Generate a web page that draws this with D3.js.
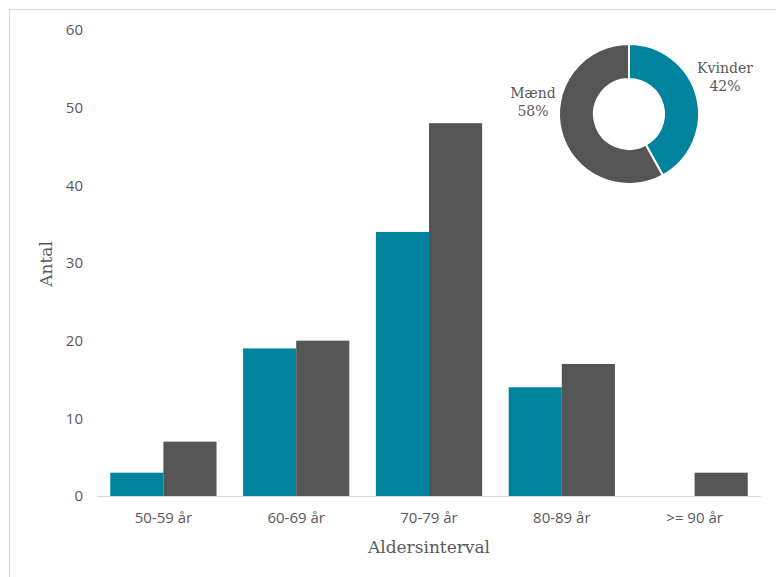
<!DOCTYPE html>
<html>
<head>
<meta charset="utf-8">
<script src="https://cdn.jsdelivr.net/npm/d3@7"></script>
<style>
  html, body { margin: 0; padding: 0; background: #fff; }
  svg { display: block; }
</style>
</head>
<body>
<svg id="chart" width="776" height="577"></svg>
<script>
// Age groups and counts per sex
const categories = ["50-59 år", "60-69 år", "70-79 år", "80-89 år", ">= 90 år"];
const seriesNames = ["Kvinder", "Mænd"];
const kvinder = [3, 19, 34, 14, 0];
const maend = [7, 20, 48, 17, 3];
const yTicks = [0, 10, 20, 30, 40, 50, 60];

// Share of each sex, as labelled on the donut
const shareNames = ["Kvinder", "Mænd"];
const shares = [42, 58];

const colors = { "Kvinder": "#00849e", "Mænd": "#555555" };
const textColor = "#595959";
const sansFont = "'Open Sans', sans-serif";
const serifFont = "'DejaVu Serif', serif";

const svg = d3.select("#chart");

// Outer frame (top and left edges visible)
svg.append("rect")
  .attr("x", 9.5).attr("y", 9.5)
  .attr("width", 900).attr("height", 700)
  .attr("fill", "none").attr("stroke", "#d9d9d9").attr("stroke-width", 1);

const plot = { left: 97, right: 761, top: 30, bottom: 496 };

const x0 = d3.scaleBand()
  .domain(categories)
  .range([plot.left, plot.right])
  .paddingInner(0.2).paddingOuter(0.1);

const x1 = d3.scaleBand()
  .domain(seriesNames)
  .range([0, x0.bandwidth()]);

const y = d3.scaleLinear()
  .domain([0, 60])
  .range([plot.bottom, plot.top]);

const rows = categories.map((c, i) => ({ cat: c, values: [
  { name: "Kvinder", v: kvinder[i] },
  { name: "Mænd", v: maend[i] }
]}));

// Bars
const groups = svg.append("g").selectAll("g")
  .data(rows).join("g")
  .attr("transform", d => `translate(${x0(d.cat)},0)`);

groups.selectAll("rect")
  .data(d => d.values.filter(e => e.v > 0))
  .join("rect")
  .attr("x", d => x1(d.name))
  .attr("y", d => y(d.v))
  .attr("width", x1.bandwidth())
  .attr("height", d => y(0) - y(d.v))
  .attr("fill", d => colors[d.name]);

// Y axis (labels only)
const yAxis = svg.append("g")
  .attr("transform", `translate(${plot.left - 14},0)`)
  .call(d3.axisLeft(y).tickValues(yTicks).tickSize(0).tickPadding(0));
yAxis.select(".domain").remove();
yAxis.selectAll("text")
  .attr("fill", textColor)
  .style("font-family", sansFont)
  .style("font-size", "15px");

// X axis baseline and labels
const xAxis = svg.append("g")
  .attr("transform", `translate(0,${plot.bottom})`)
  .call(d3.axisBottom(x0).tickSize(0).tickPadding(16));
xAxis.select(".domain")
  .attr("stroke", "#d9d9d9")
  .attr("d", `M${plot.left},0.5H${plot.right}`);
xAxis.selectAll("text")
  .attr("fill", textColor)
  .style("font-family", sansFont)
  .style("font-size", "15px");

// Axis titles
svg.append("text")
  .attr("x", (plot.left + plot.right) / 2)
  .attr("y", 553)
  .attr("text-anchor", "middle")
  .attr("fill", textColor)
  .style("font-family", serifFont)
  .style("font-size", "17px")
  .text("Aldersinterval");

svg.append("text")
  .attr("transform", "translate(52,264) rotate(-90)")
  .attr("text-anchor", "middle")
  .attr("fill", textColor)
  .style("font-family", serifFont)
  .style("font-size", "17px")
  .text("Antal");

// Donut of sex distribution
const donut = svg.append("g").attr("transform", "translate(629,114)");
const pie = d3.pie().sort(null).value(d => d.v);
const arc = d3.arc().innerRadius(35).outerRadius(70);
const pieData = pie(shareNames.map((n, i) => ({ name: n, v: shares[i] })));

donut.selectAll("path")
  .data(pieData).join("path")
  .attr("d", arc)
  .attr("fill", d => colors[d.data.name])
  .attr("stroke", "#fff")
  .attr("stroke-width", 2);

const donutLabels = [
  { name: "Kvinder", x: 725, y: 73 },
  { name: "Mænd", x: 533, y: 98 }
];
donutLabels.forEach(l => {
  const i = shareNames.indexOf(l.name);
  const t = svg.append("text")
    .attr("text-anchor", "middle")
    .attr("fill", textColor)
    .style("font-family", serifFont)
    .style("font-size", "14px");
  t.append("tspan").attr("x", l.x).attr("y", l.y).text(l.name);
  t.append("tspan").attr("x", l.x).attr("y", l.y + 18).text(shares[i] + "%");
});
</script>
</body>
</html>
